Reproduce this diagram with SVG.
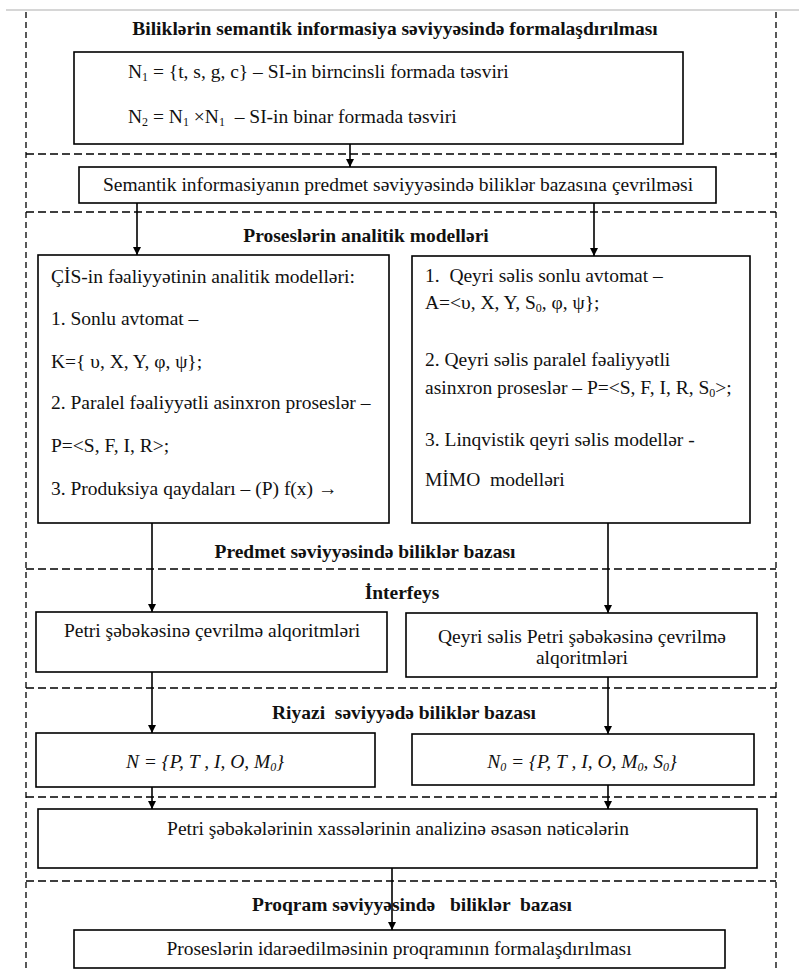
<svg xmlns="http://www.w3.org/2000/svg" width="799" height="972" viewBox="0 0 799 972">
<defs>
<style>
.bg{fill:#fff}
.top{stroke:#c8c8c8;stroke-width:1.5}
.dh{stroke:#000;stroke-width:1.3;stroke-dasharray:8 4;fill:none}
.dv{stroke:#000;stroke-width:1.3;stroke-dasharray:6 4;fill:none}
.box{fill:#fff;stroke:#000;stroke-width:1.6}
.t{font-family:"Liberation Serif","Times New Roman",serif;font-size:19.5px;fill:#111}
.b{font-weight:bold}
.i{font-style:italic}
.c{text-anchor:middle}
.sub{font-size:12px}
.ln{stroke:#000;stroke-width:1.6;fill:none}
</style>
<marker id="ah" viewBox="0 0 10 10" refX="10" refY="5" markerWidth="8" markerHeight="8" markerUnits="userSpaceOnUse" orient="auto">
<path d="M0,0 L10,5 L0,10 z" fill="#000"/>
</marker>
</defs>
<rect class="bg" x="0" y="0" width="799" height="972"/>
<line class="top" x1="6" y1="10" x2="799" y2="10"/>

<g id="frame">
<line class="dv" x1="26" y1="12" x2="26" y2="972"/>
<line class="dv" x1="776" y1="12" x2="776" y2="972"/>
<line class="dh" x1="26" y1="154" x2="776" y2="154"/>
<line class="dh" x1="26" y1="212" x2="776" y2="212"/>
<line class="dh" x1="26" y1="569" x2="776" y2="569"/>
<line class="dh" x1="26" y1="688" x2="776" y2="688"/>
<line class="dh" x1="26" y1="797" x2="776" y2="797"/>
<line class="dh" x1="26" y1="881" x2="776" y2="881"/>
</g>

<g id="titles">
<text class="t b c" x="395" y="35">Biliklərin semantik informasiya səviyyəsində formalaşdırılması</text>
<text class="t b c" x="366" y="242">Proseslərin analitik modelləri</text>
<text class="t b c" x="365" y="558">Predmet səviyyəsində biliklər bazası</text>
<text class="t b c" x="402" y="599">İnterfeys</text>
<text class="t b c" x="404" y="719" xml:space="preserve">Riyazi  səviyyədə biliklər bazası</text>
<text class="t b c" x="412" y="911" xml:space="preserve">Proqram səviyyəsində   biliklər  bazası</text>
</g>

<g id="connectors">
<line class="ln" x1="350" y1="144" x2="350" y2="167" marker-end="url(#ah)"/>
<line class="ln" x1="137" y1="203" x2="137" y2="255" marker-end="url(#ah)"/>
<line class="ln" x1="594" y1="203" x2="594" y2="256" marker-end="url(#ah)"/>
<line class="ln" x1="152" y1="523" x2="152" y2="612" marker-end="url(#ah)"/>
<line class="ln" x1="608" y1="523" x2="608" y2="613" marker-end="url(#ah)"/>
<line class="ln" x1="152" y1="672" x2="152" y2="733" marker-end="url(#ah)"/>
<line class="ln" x1="608" y1="677" x2="608" y2="734" marker-end="url(#ah)"/>
<line class="ln" x1="152" y1="787" x2="152" y2="809" marker-end="url(#ah)"/>
<line class="ln" x1="608" y1="785" x2="608" y2="809" marker-end="url(#ah)"/>
<line class="ln" x1="392" y1="868" x2="392" y2="930" marker-end="url(#ah)"/>
</g>

<g id="n1">
<rect class="box" x="74" y="52" width="609" height="92"/>
<text class="t" x="128" y="78">N<tspan class="sub" dy="3">1</tspan><tspan dy="-3"> = {t, s, g, c} – SI-in birncinsli formada təsviri</tspan></text>
<text class="t" x="128" y="123">N<tspan class="sub" dy="3">2</tspan><tspan dy="-3"> = N</tspan><tspan class="sub" dy="3">1</tspan><tspan dy="-3"> ×N</tspan><tspan class="sub" dy="3">1</tspan><tspan dy="-3" xml:space="preserve">  – SI-in binar formada təsviri</tspan></text>
</g>

<g id="n2">
<rect class="box" x="79" y="167" width="637" height="36"/>
<text class="t c" x="398" y="191">Semantik informasiyanın predmet səviyyəsində biliklər bazasına çevrilməsi</text>
</g>

<g id="n3">
<rect class="box" x="38" y="255" width="351" height="268"/>
<text class="t" x="51" y="283">ÇİS-in fəaliyyətinin analitik modelləri:</text>
<text class="t" x="51" y="325">1. Sonlu avtomat –</text>
<text class="t" x="51" y="368">K={ υ, X, Y, φ, ψ};</text>
<text class="t" x="51" y="409">2. Paralel fəaliyyətli asinxron proseslər –</text>
<text class="t" x="51" y="452">P=&lt;S, F, I, R&gt;;</text>
<text class="t" x="51" y="495">3. Produksiya qaydaları – (P) f(x) →</text>
</g>

<g id="n4">
<rect class="box" x="412" y="256" width="338" height="267"/>
<text class="t" x="425" y="282" xml:space="preserve">1.  Qeyri səlis sonlu avtomat –</text>
<text class="t" x="425" y="309">A=&lt;υ, X, Y, S<tspan class="sub" dy="3">0</tspan><tspan dy="-3">, φ, ψ};</tspan></text>
<text class="t" x="425" y="366">2. Qeyri səlis paralel fəaliyyətli</text>
<text class="t" x="425" y="394">asinxron proseslər – P=&lt;S, F, I, R, S<tspan class="sub" dy="3">0</tspan><tspan dy="-3">&gt;;</tspan></text>
<text class="t" x="425" y="446">3. Linqvistik qeyri səlis modellər -</text>
<text class="t" x="425" y="486" xml:space="preserve">MİMO  modelləri</text>
</g>

<g id="n5">
<rect class="box" x="36" y="612" width="351" height="60"/>
<text class="t c" x="212" y="637">Petri şəbəkəsinə çevrilmə alqoritmləri</text>
</g>

<g id="n6">
<rect class="box" x="406" y="613" width="351" height="64"/>
<text class="t c" x="582" y="643">Qeyri səlis Petri şəbəkəsinə çevrilmə</text>
<text class="t c" x="582" y="664">alqoritmləri</text>
</g>

<g id="n7">
<rect class="box" x="36" y="733" width="339" height="54"/>
<text class="t i c" x="205" y="768">N = {P, T , I, O, M<tspan class="sub" dy="3">0</tspan><tspan dy="-3">}</tspan></text>
</g>

<g id="n8">
<rect class="box" x="412" y="734" width="342" height="51"/>
<text class="t i c" x="582" y="768">N<tspan class="sub" dy="3">0</tspan><tspan dy="-3"> = {P, T , I, O, M</tspan><tspan class="sub" dy="3">0</tspan><tspan dy="-3">, S</tspan><tspan class="sub" dy="3">0</tspan><tspan dy="-3">}</tspan></text>
</g>

<g id="n9">
<rect class="box" x="38" y="809" width="719" height="59"/>
<text class="t c" x="398" y="835">Petri şəbəkələrinin xassələrinin analizinə əsasən nəticələrin</text>
</g>

<g id="n10">
<rect class="box" x="74" y="930" width="651" height="38"/>
<text class="t c" x="399" y="955">Proseslərin idarəedilməsinin proqramının formalaşdırılması</text>
</g>
</svg>
